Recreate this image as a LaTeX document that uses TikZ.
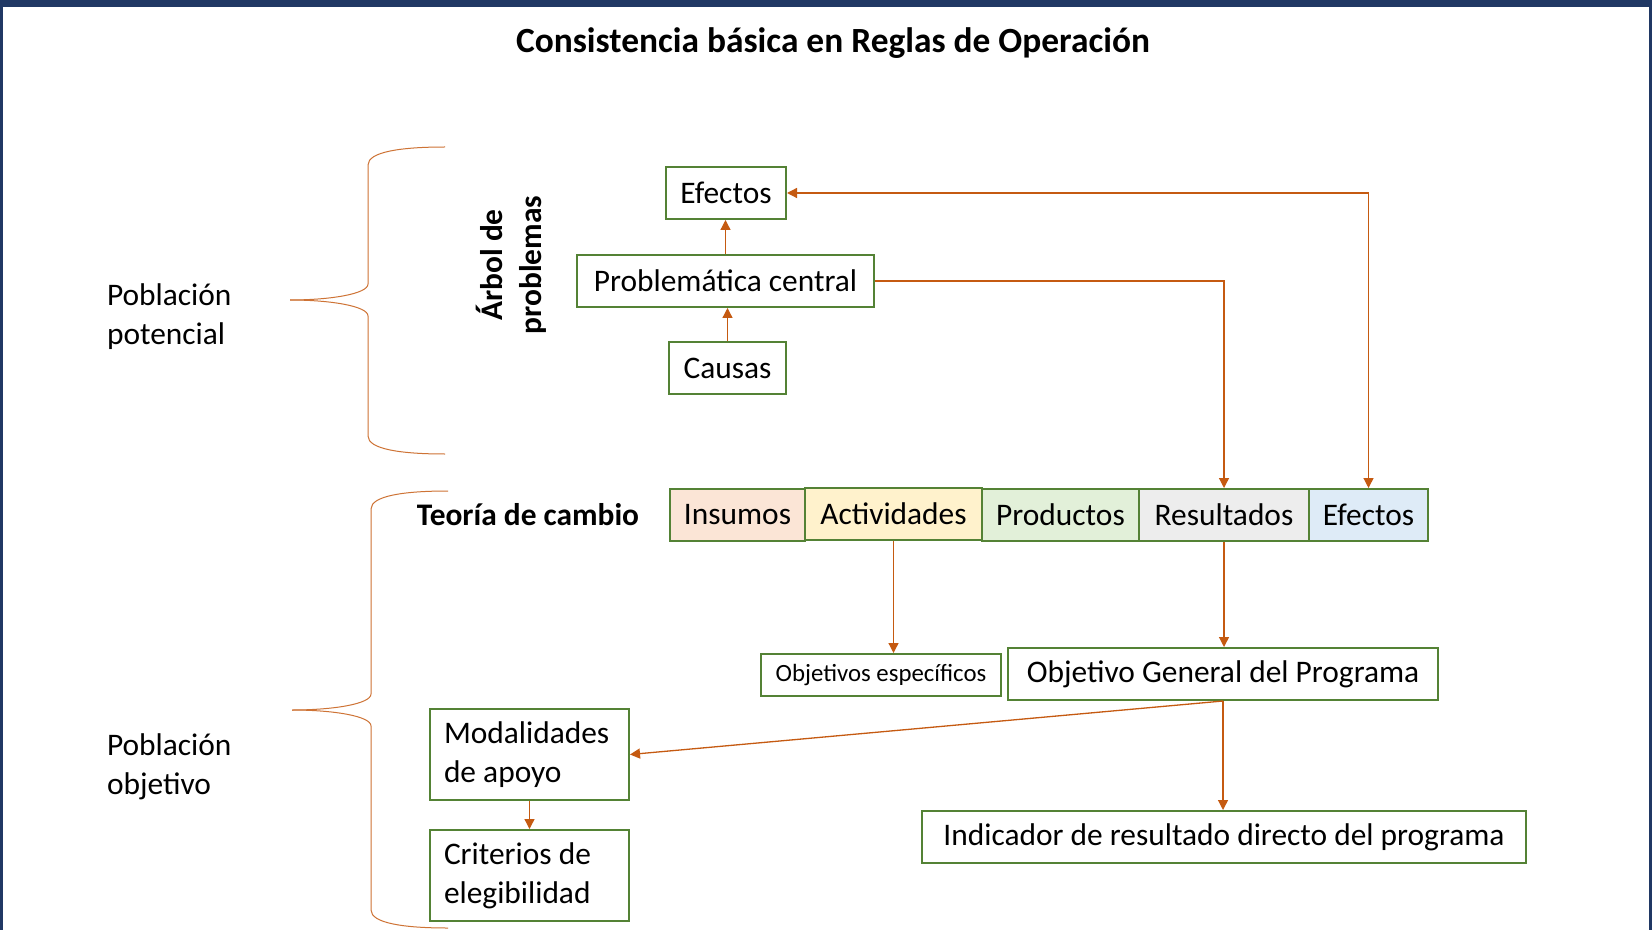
\documentclass[tikz,border=0pt]{standalone}
\usepackage{fontspec}
\setmainfont{Carlito}
\usetikzlibrary{arrows.meta}

\definecolor{boxgreen}{HTML}{548235}
\definecolor{arrorange}{HTML}{C55A11}
\definecolor{framenavy}{HTML}{203864}
\definecolor{insumosfill}{HTML}{FBE5D6}
\definecolor{actividadesfill}{HTML}{FFF2CC}
\definecolor{productosfill}{HTML}{E2F0D9}
\definecolor{resultadosfill}{HTML}{EDEDED}
\definecolor{efectosfill}{HTML}{DEEBF7}

\newcommand{\boxfont}{\fontsize{15.7pt}{19.5pt}\selectfont}
\newcommand{\smallboxfont}{\fontsize{12.4pt}{15pt}\selectfont}
\newcommand{\titlefont}{\fontsize{17.7pt}{21pt}\selectfont\bfseries}

\begin{document}
\begin{tikzpicture}[x=0.5pt,y=-0.5pt,
	box/.style={draw=boxgreen, line width=1pt, inner sep=0pt, minimum height=26pt, font=\boxfont},
	arr/.style={arrorange, line width=0.65pt, -{Triangle[length=5pt,width=5pt]}},
	brace/.style={arrorange!85, line width=0.5pt}]
	
	% page and frame
	\useasboundingbox (0,0) rectangle (1652,930);
	\fill [white] (0,0) rectangle (1652,930);
	\fill [framenavy] (0,0) rectangle (1652,7);
	\fill [framenavy] (0,0) rectangle (3,930);
	\fill [framenavy] (1649,0) rectangle (1652,930);
	
	% title
	\node (title) at (833,43) {\titlefont Consistencia básica en Reglas de Operación};
	
	% poblacion potencial
	\node [anchor=west, align=left, font=\boxfont] (pobpot) at (100,317) {Población\\potencial};
	\draw [brace] (445,147) .. controls (400,147) and (368,152) .. (368,165) -- (368,284)
		.. controls (368,294) and (330,300) .. (290,300);
	\draw [brace] (445,454) .. controls (400,454) and (368,449) .. (368,436) -- (368,316)
		.. controls (368,306) and (330,300) .. (290,300);
	
	% arbol de problemas
	\node [rotate=90, align=center, font=\boxfont\bfseries] (arbol) at (511,265) {Árbol de\\problemas};
	\node [box, minimum width=60pt] (efarbol) at (726,193) {Efectos};
	\node [box, minimum width=148.5pt] (problema) at (725.5,281) {Problemática central};
	\node [box, minimum width=58.5pt] (causas) at (727.5,368) {Causas};
	
	% poblacion objetivo
	\node [anchor=west, align=left, font=\boxfont] (pobobj) at (100,767) {Población\\objetivo};
	\draw [brace] (448,491) .. controls (403,491) and (371,496) .. (371,509) -- (371,694)
		.. controls (371,704) and (333,710) .. (292,710);
	\draw [brace] (448,928) .. controls (403,928) and (371,923) .. (371,910) -- (371,726)
		.. controls (371,716) and (333,710) .. (292,710);
	
	% teoria de cambio
	\node [font=\boxfont\bfseries] (teoria) at (528,515) {Teoría de cambio};
	\node [box, fill=insumosfill, minimum width=67.5pt] (insumos) at (737.5,515) {Insumos};
	\node [box, fill=actividadesfill, minimum width=88.5pt] (actividades) at (893.5,514) {Actividades};
	\node [box, fill=productosfill, minimum width=78.5pt] (productos) at (1060.5,515) {Productos};
	\node [box, fill=resultadosfill, minimum width=85pt] (resultados) at (1224,515) {Resultados};
	\node [box, fill=efectosfill, minimum width=59.5pt] (efectos) at (1368.5,515) {Efectos};
	
	% objetivos
	\node [box, minimum width=120pt, minimum height=21pt, font=\smallboxfont] (objesp) at (881,675) {Objetivos específicos};
	\node [box, minimum width=215pt] (objgen) at (1223,674) {Objetivo General del Programa};
	\node [box, minimum width=302pt] (indicador) at (1224,837) {Indicador de resultado directo del programa};
	
	% modalidades / criterios
	\node [box, minimum height=45.5pt, text width=85.5pt, inner xsep=7pt, align=flush left] (modalidades) at (529.5,754.5) {Modalidades\\de apoyo};
	\node [box, minimum height=45.5pt, text width=85.5pt, inner xsep=7pt, align=flush left] (criterios) at (529.5,875.5) {Criterios de\\elegibilidad};
	
	% connectors
	\draw [arr] (causas.north) -- (causas.north |- problema.south);
	\draw [arr] (problema.north) -- (problema.north |- efarbol.south);
	\draw [arr, {Triangle[length=5pt,width=5pt]}-{Triangle[length=5pt,width=5pt]}] (efarbol.east) -| (efectos.north);
	\draw [arr] (problema.east) -| (resultados.north);
	\draw [arr] (actividades.south) -- (actividades.south |- objesp.north);
	\draw [arr] (resultados.south) -- (resultados.south |- objgen.north);
	\draw [arr] (objgen.south) -- (modalidades.east);
	\draw [arr] (objgen.south) -- (objgen.south |- indicador.north);
	\draw [arr] (modalidades.south) -- (criterios.north);
	
\end{tikzpicture}
\end{document}
